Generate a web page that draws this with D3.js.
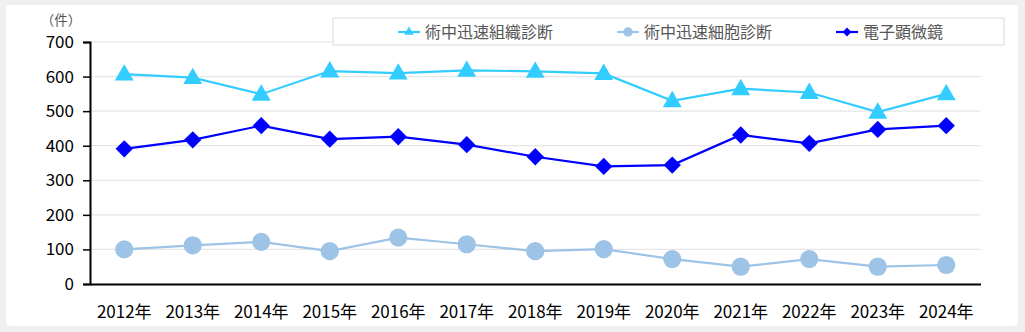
<!DOCTYPE html>
<html><head><meta charset="utf-8">
<script src="https://cdn.jsdelivr.net/npm/d3@7"></script>
<style>
html,body{margin:0;padding:0;background:#f0f0f0;}
svg{display:block;}
text{font-family:"Noto Sans CJK JP","Noto Sans",sans-serif;}
</style></head>
<body>
<svg id="c" width="1025" height="332"></svg>
<script>
const years = ["2012年","2013年","2014年","2015年","2016年","2017年","2018年","2019年","2020年","2021年","2022年","2023年","2024年"];
const tissue = [607,597,549,616,610,618,615,609,530,565,554,497,550];
const cell = [100,112,122,95,134,115,95,101,72,50,72,50,55];
const em = [391,417,458,419,426,403,368,340,344,431,407,447,458];
const yTicks = [0,100,200,300,400,500,600,700];
const seriesNames = ["術中迅速組織診断","術中迅速細胞診断","電子顕微鏡"];

(function(){
const svg = d3.select("#c");
svg.append("rect").attr("x",6).attr("y",5).attr("width",1012).attr("height",321).attr("rx",4).attr("fill","#fff");

const pL=90, pR=980.5, pT=42, pB=284;
const x = d3.scaleBand().domain(years).range([pL,pR]);
const y = d3.scaleLinear().domain([0,700]).range([pB,pT]);
const cx = d => x(d)+x.bandwidth()/2;

// gridlines
svg.append("g").selectAll("line").data(yTicks.filter(t=>t>0)).join("line")
  .attr("x1",pL).attr("x2",pR).attr("y1",d=>y(d)).attr("y2",d=>y(d))
  .attr("stroke","#e6e6e6").attr("stroke-width",1.2);

// y axis
const ya = svg.append("g").attr("transform",`translate(${pL},0)`)
  .call(d3.axisLeft(y).tickValues(yTicks).tickSize(7).tickPadding(9).tickFormat(d3.format("d")));
ya.select(".domain").attr("stroke","#000").attr("stroke-width",2);
ya.selectAll(".tick line").attr("stroke","#000").attr("stroke-width",1.5);
ya.selectAll("text").attr("font-size",17).attr("fill","#000");

// x axis
const xa = svg.append("g").attr("transform",`translate(0,${pB})`)
  .call(d3.axisBottom(x).tickSize(0).tickPadding(22));
xa.select(".domain").attr("stroke","#000").attr("stroke-width",2.2);
xa.selectAll("text").attr("font-size",17).attr("fill","#000");

svg.append("text").attr("x",61).attr("y",25).attr("text-anchor","middle").attr("font-size",13.5).attr("fill","#555").text("（件）");

const line = d3.line().x((d,i)=>cx(years[i])).y(d=>y(d));
const colors = ["#33CCFF","#9DC3E6","#0000FF"];
const data = [tissue,cell,em];
const shapes = [d3.symbolTriangle,d3.symbolCircle,d3.symbolSquare];
const sizes = [155,260,150];
const rot = [0,0,45];

data.forEach((arr,k)=>{
  svg.append("path").datum(arr).attr("d",line).attr("fill","none").attr("stroke",colors[k]).attr("stroke-width",2.2);
  svg.append("g").selectAll("path").data(arr).join("path")
    .attr("transform",(d,i)=>`translate(${cx(years[i])},${y(d)+(k===0?1:0)}) rotate(${rot[k]})`)
    .attr("d",d3.symbol().type(shapes[k]).size(sizes[k])).attr("fill",colors[k]);
});

// legend
svg.append("rect").attr("x",333).attr("y",18).attr("width",671).attr("height",27).attr("fill","#fff").attr("stroke","#d9d9d9").attr("stroke-width",1);
const lx = [398,617,836];
seriesNames.forEach((n,k)=>{
  const g = svg.append("g").attr("transform",`translate(${lx[k]},32)`);
  g.append("line").attr("x1",0).attr("x2",22).attr("stroke",colors[k]).attr("stroke-width",2.2);
  g.append("path").attr("transform",`translate(11,0) rotate(${rot[k]})`).attr("d",d3.symbol().type(shapes[k]).size(k===1?70:40)).attr("fill",colors[k]);
  g.append("text").attr("x",27).attr("y",6).attr("font-size",16).attr("fill","#555").text(n);
});
})();
</script>
</body></html>
